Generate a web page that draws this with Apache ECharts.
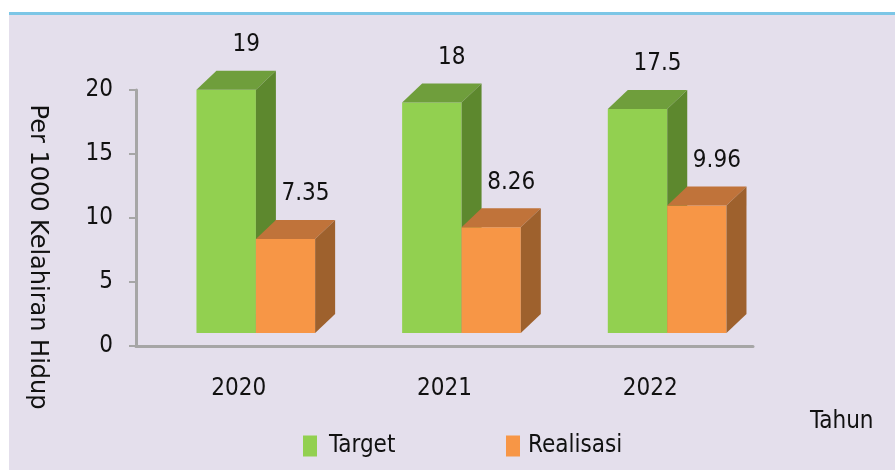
<!DOCTYPE html>
<html>
<head>
<meta charset="utf-8">
<title>Target vs Realisasi</title>
<script src="https://cdn.jsdelivr.net/npm/echarts@6/dist/echarts.min.js"></script>
<style>
    html, body { margin: 0; padding: 0; background: #fff; }
    #chart { width: 895px; height: 470px; }
</style>
</head>
<body>
<div id="chart"></div>
<script>
var years = ['2020', '2021', '2022'];
var targetValues = [19, 18, 17.5];
var realisasiValues = [7.35, 8.26, 9.96];
var yTicks = [0, 5, 10, 15, 20];

var FONT = "'DejaVu Sans Condensed', 'DejaVu Sans', sans-serif";
var TEXT = '#111';
var LIFT = 13;   // front face sits above the axis line
var DX = 20, DY = 19;   // depth of the boxes

function box(f0, f1, front, top, side) {
    return function(params, api) {
        var idx = api.value(0);
        var val = api.value(1);
        var base = api.coord([idx, 0]);
        var head = api.coord([idx, val]);
        var band = api.size([1, 0])[0];
        var x0 = base[0] + band * f0;
        var x1 = base[0] + band * f1;
        var yb = base[1] - LIFT;
        var yt = head[1] - LIFT;
        return {
            type: 'group',
            children: [{
                type: 'rect',
                shape: { x: x0, y: yt, width: x1 - x0, height: yb - yt },
                style: { fill: front }
            }, {
                type: 'polygon',
                shape: { points: [[x0, yt], [x1, yt], [x1 + DX, yt - DY], [x0 + DX, yt - DY]] },
                style: { fill: top }
            }, {
                type: 'polygon',
                shape: { points: [[x1, yt], [x1 + DX, yt - DY], [x1 + DX, yb - DY], [x1, yb]] },
                style: { fill: side }
            }, {
                type: 'text',
                x: (x0 + x1) / 2 + DX,
                y: yt - DY - 14,
                style: {
                    text: String(val),
                    fill: TEXT,
                    font: '24px ' + FONT,
                    align: 'center',
                    verticalAlign: 'bottom'
                }
            }]
        };
    };
}

var myChart = echarts.init(document.getElementById('chart'));
var option = {
    backgroundColor: '#ffffff',
    animation: false,
    textStyle: { fontFamily: FONT },
    graphic: [{
        type: 'rect',
        z: -10,
        shape: { x: 9, y: 15, width: 886, height: 455 },
        style: { fill: '#e4dfec' }
    }, {
        type: 'rect',
        z: -10,
        shape: { x: 9, y: 12, width: 886, height: 3 },
        style: { fill: '#7cc6e6' }
    }, {
        type: 'text',
        x: 37,
        y: 257,
        rotation: -Math.PI / 2,
        style: {
            text: 'Per 1000 Kelahiran Hidup',
            fill: TEXT,
            font: '24px "DejaVu Sans", sans-serif',
            align: 'center',
            verticalAlign: 'middle'
        }
    }, {
        type: 'text',
        x: 810,
        y: 422,
        style: {
            text: 'Tahun',
            fill: TEXT,
            font: '24px ' + FONT,
            verticalAlign: 'middle'
        }
    }],
    legend: [{
        data: ['Target'],
        left: 303,
        top: 434,
        padding: 0,
        icon: 'rect',
        itemWidth: 14,
        itemHeight: 21,
        textStyle: { fontSize: 24, fontFamily: FONT, color: TEXT, padding: [0, 0, 0, 7] }
    }, {
        data: ['Realisasi'],
        left: 506,
        top: 434,
        padding: 0,
        icon: 'rect',
        itemWidth: 14,
        itemHeight: 21,
        textStyle: { fontSize: 24, fontFamily: FONT, color: TEXT, padding: [0, 0, 0, 3] }
    }],
    grid: {
        left: 136,
        right: 142,
        top: 90,
        bottom: 124
    },
    xAxis: {
        type: 'category',
        data: years,
        axisLine: { lineStyle: { color: '#a6a6a6', width: 3 } },
        axisTick: { length: 7, lineStyle: { color: '#a6a6a6', width: 2 } },
        axisLabel: { fontSize: 24, fontFamily: FONT, color: TEXT, margin: 31 }
    },
    yAxis: {
        type: 'value',
        min: yTicks[0],
        max: yTicks[yTicks.length - 1],
        interval: 5,
        splitLine: { show: false },
        axisLine: { show: true, lineStyle: { color: '#a6a6a6', width: 3 } },
        axisTick: { show: true, length: 7, lineStyle: { color: '#a6a6a6', width: 2 } },
        axisLabel: { fontSize: 24, fontFamily: FONT, color: TEXT, margin: 23 }
    },
    series: [{
        name: 'Target',
        type: 'custom',
        clip: false,
        itemStyle: { color: '#92d050' },
        renderItem: box(-0.206, 0.083, '#92d050', '#6f9e3c', '#5d882e'),
        encode: { x: 0, y: 1 },
        data: targetValues.map(function(v, i) { return [i, v]; })
    }, {
        name: 'Realisasi',
        type: 'custom',
        clip: false,
        itemStyle: { color: '#f79646' },
        renderItem: box(0.083, 0.371, '#f79646', '#c0733a', '#9e612d'),
        encode: { x: 0, y: 1 },
        data: realisasiValues.map(function(v, i) { return [i, v]; })
    }]
};
myChart.setOption(option);

window.onresize = function() {
    myChart.resize();
};
</script>
</body>
</html>
